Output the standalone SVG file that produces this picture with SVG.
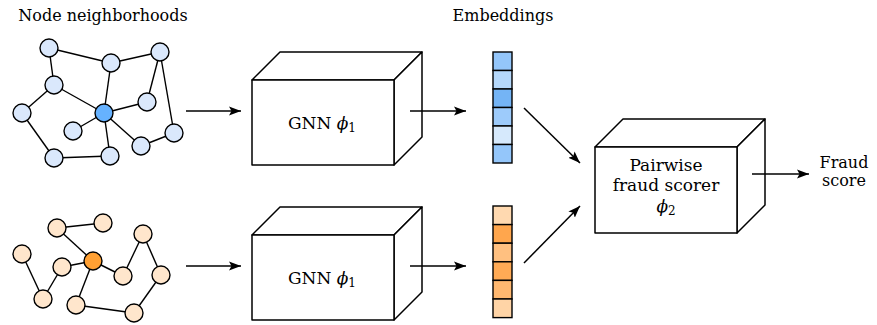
<svg xmlns="http://www.w3.org/2000/svg" width="877" height="325" viewBox="0 0 877 325">
  <style>
    text { font-family: "DejaVu Serif", "Liberation Serif", serif; font-size: 16px; fill: #000; }
    .lbl { text-anchor: middle; }
    .big { font-size: 17px; }
    .edge { stroke: #000; stroke-width: 1.4; fill: none; }
    .arrow { stroke: #000; stroke-width: 1.5; fill: none; marker-end: url(#tip); }
    .nb { fill: #dae8fc; stroke: #000; stroke-width: 1.4; }
    .nbc { fill: #66b2ff; stroke: #000; stroke-width: 1.4; }
    .no { fill: #ffe6cc; stroke: #000; stroke-width: 1.4; }
    .noc { fill: #ffa033; stroke: #000; stroke-width: 1.4; }
    .face { fill: #fff; stroke: #000; stroke-width: 1.5; stroke-linejoin: round; }
    .cell { stroke: #000; stroke-width: 1.4; }
    .it { font-style: italic; }
  </style>
  <defs>
    <marker id="tip" markerUnits="userSpaceOnUse" markerWidth="13" markerHeight="10" refX="12" refY="5" orient="auto">
      <path d="M0,0.5 L12,5 L0,9.5 L2.5,5 Z" fill="#000"/>
    </marker>
  </defs>

  <rect width="877" height="325" fill="#fff"/>

  <!-- headings -->
  <text class="lbl" x="103" y="21">Node neighborhoods</text>
  <text class="lbl" x="503" y="21">Embeddings</text>

  <!-- graph edges and flow arrows -->
  <g id="connectors">
    <!-- upper neighbourhood -->
    <line class="edge" x1="49" y1="48" x2="111" y2="63"/>
    <line class="edge" x1="49" y1="48" x2="54" y2="85"/>
    <line class="edge" x1="111" y1="63" x2="160" y2="52"/>
    <line class="edge" x1="111" y1="63" x2="104" y2="113"/>
    <line class="edge" x1="160" y1="52" x2="147" y2="102"/>
    <line class="edge" x1="160" y1="52" x2="174" y2="133"/>
    <line class="edge" x1="54" y1="85" x2="22" y2="113"/>
    <line class="edge" x1="54" y1="85" x2="104" y2="113"/>
    <line class="edge" x1="104" y1="113" x2="147" y2="102"/>
    <line class="edge" x1="104" y1="113" x2="73" y2="131"/>
    <line class="edge" x1="104" y1="113" x2="141" y2="146"/>
    <line class="edge" x1="104" y1="113" x2="110" y2="156"/>
    <line class="edge" x1="22" y1="113" x2="54" y2="158"/>
    <line class="edge" x1="54" y1="158" x2="110" y2="156"/>
    <line class="edge" x1="141" y1="146" x2="174" y2="133"/>
    <!-- lower neighbourhood -->
    <line class="edge" x1="57" y1="228" x2="103" y2="223"/>
    <line class="edge" x1="57" y1="228" x2="93" y2="261"/>
    <line class="edge" x1="93" y1="261" x2="62" y2="267"/>
    <line class="edge" x1="62" y1="267" x2="43" y2="299"/>
    <line class="edge" x1="43" y1="299" x2="22" y2="254"/>
    <line class="edge" x1="93" y1="261" x2="123" y2="276"/>
    <line class="edge" x1="123" y1="276" x2="143" y2="234"/>
    <line class="edge" x1="143" y1="234" x2="161" y2="275"/>
    <line class="edge" x1="161" y1="275" x2="134" y2="313"/>
    <line class="edge" x1="134" y1="313" x2="76" y2="305"/>
    <line class="edge" x1="76" y1="305" x2="93" y2="261"/>
    <!-- graph to GNN -->
    <line class="arrow" x1="186" y1="111" x2="241" y2="111"/>
    <line class="arrow" x1="186" y1="266" x2="241" y2="266"/>
  </g>

  <!-- upper neighbourhood nodes -->
  <g id="node-u1"><circle class="nb" cx="49" cy="48" r="9"/></g>
  <g id="node-u2"><circle class="nb" cx="111" cy="63" r="9"/></g>
  <g id="node-u3"><circle class="nb" cx="160" cy="52" r="9"/></g>
  <g id="node-u4"><circle class="nb" cx="54" cy="85" r="9"/></g>
  <g id="node-u-center"><circle class="nbc" cx="104" cy="113" r="9"/></g>
  <g id="node-u5"><circle class="nb" cx="147" cy="102" r="9"/></g>
  <g id="node-u6"><circle class="nb" cx="22" cy="113" r="9"/></g>
  <g id="node-u7"><circle class="nb" cx="73" cy="131" r="9"/></g>
  <g id="node-u8"><circle class="nb" cx="174" cy="133" r="9"/></g>
  <g id="node-u9"><circle class="nb" cx="141" cy="146" r="9"/></g>
  <g id="node-u10"><circle class="nb" cx="110" cy="156" r="9"/></g>
  <g id="node-u11"><circle class="nb" cx="54" cy="158" r="9"/></g>

  <!-- lower neighbourhood nodes -->
  <g id="node-l1"><circle class="no" cx="57" cy="228" r="9"/></g>
  <g id="node-l2"><circle class="no" cx="103" cy="223" r="9"/></g>
  <g id="node-l3"><circle class="no" cx="143" cy="234" r="9"/></g>
  <g id="node-l-center"><circle class="noc" cx="93" cy="261" r="9"/></g>
  <g id="node-l4"><circle class="no" cx="22" cy="254" r="9"/></g>
  <g id="node-l5"><circle class="no" cx="62" cy="267" r="9"/></g>
  <g id="node-l6"><circle class="no" cx="123" cy="276" r="9"/></g>
  <g id="node-l7"><circle class="no" cx="161" cy="275" r="9"/></g>
  <g id="node-l8"><circle class="no" cx="43" cy="299" r="9"/></g>
  <g id="node-l9"><circle class="no" cx="76" cy="305" r="9"/></g>
  <g id="node-l10"><circle class="no" cx="134" cy="313" r="9"/></g>

  <!-- upper GNN block -->
  <g id="gnn-top">
    <polygon class="face" points="252,80 280,52 422,52 394,80"/>
    <polygon class="face" points="394,80 422,52 422,137 394,165"/>
    <rect class="face" x="252" y="80" width="142" height="85"/>
    <text class="lbl big" x="322" y="129">GNN <tspan class="it">ϕ</tspan><tspan font-size="12" dy="3">1</tspan></text>
  </g>

  <!-- lower GNN block -->
  <g id="gnn-bottom">
    <polygon class="face" points="252,235 280,207 422,207 394,235"/>
    <polygon class="face" points="394,235 422,207 422,292 394,320"/>
    <rect class="face" x="252" y="235" width="142" height="85"/>
    <text class="lbl big" x="322" y="284">GNN <tspan class="it">ϕ</tspan><tspan font-size="12" dy="3">1</tspan></text>
  </g>

  <!-- upper embedding vector -->
  <g id="embedding-top">
    <rect class="cell" x="493" y="52" width="19" height="18.5" fill="#94c6fa"/>
    <rect class="cell" x="493" y="70.5" width="19" height="18.5" fill="#b5d8fb"/>
    <rect class="cell" x="493" y="89" width="19" height="18.5" fill="#74b4f5"/>
    <rect class="cell" x="493" y="107.5" width="19" height="18.5" fill="#9dcbfb"/>
    <rect class="cell" x="493" y="126" width="19" height="18.5" fill="#d6e9fc"/>
    <rect class="cell" x="493" y="144.5" width="19" height="18.5" fill="#94c6fa"/>
  </g>

  <!-- lower embedding vector -->
  <g id="embedding-bottom">
    <rect class="cell" x="493" y="206" width="19" height="18.6" fill="#ffd9b0"/>
    <rect class="cell" x="493" y="224.6" width="19" height="18.6" fill="#ffa64d"/>
    <rect class="cell" x="493" y="243.2" width="19" height="18.6" fill="#ffc080"/>
    <rect class="cell" x="493" y="261.8" width="19" height="18.6" fill="#ffaa55"/>
    <rect class="cell" x="493" y="280.4" width="19" height="18.6" fill="#ffb870"/>
    <rect class="cell" x="493" y="299" width="19" height="18.6" fill="#ffd4a6"/>
  </g>

  <!-- pairwise scorer block -->
  <g id="scorer">
    <polygon class="face" points="595,147 623,119 765,119 737,147"/>
    <polygon class="face" points="737,147 765,119 765,205 737,233"/>
    <rect class="face" x="595" y="147" width="142" height="86"/>
    <text class="lbl big" x="666" y="171">Pairwise</text>
    <text class="lbl big" x="666" y="191">fraud scorer</text>
    <text class="lbl big" x="666" y="212"><tspan class="it">ϕ</tspan><tspan font-size="12" dy="3">2</tspan></text>
  </g>

  <!-- output label -->
  <g id="output">
    <text class="lbl" x="844" y="168">Fraud</text>
    <text class="lbl" x="844" y="186">score</text>
  </g>

  <!-- flow arrows drawn above the blocks -->
  <g id="flow">
    <line class="arrow" x1="410" y1="111" x2="466" y2="111"/>
    <line class="arrow" x1="410" y1="266" x2="466" y2="266"/>
    <line class="arrow" x1="524" y1="108" x2="580" y2="163"/>
    <line class="arrow" x1="524" y1="263" x2="580" y2="206"/>
    <line class="arrow" x1="752" y1="174" x2="809" y2="174"/>
  </g>
</svg>
